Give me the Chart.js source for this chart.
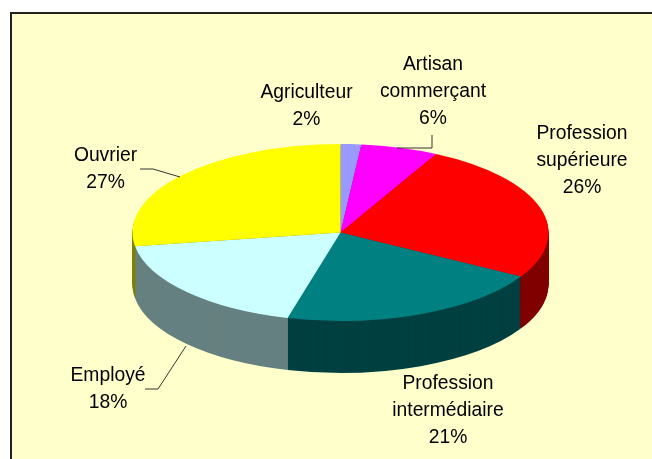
<!DOCTYPE html>
<html>
<head>
<meta charset="utf-8">
<style>
html, body { margin: 0; padding: 0; background: #fff; }
#panel { position: absolute; left: 10px; top: 12px; width: 640px; height: 445px; background: #ffffcc; border-left: 2px solid #222; border-top: 2px solid #222; }
canvas { position: absolute; left: 0; top: 0; }
</style>
</head>
<body>
<div id="panel"></div>
<canvas id="pie" width="652" height="459"></canvas>
<script src="https://cdn.jsdelivr.net/npm/chart.js@4"></script>
<script>
const categories = ['Agriculteur', 'Artisan commerçant', 'Profession supérieure', 'Profession intermédiaire', 'Employé', 'Ouvrier']
// slice sizes as measured on the picture, the printed percentages are below
const shares = [1.6, 6, 25.7, 20.8, 18.4, 27.5]
const shareLabels = ['2%', '6%', '26%', '21%', '18%', '27%']
const topColors = ['#9999ff', '#ff00ff', '#ff0000', '#008080', '#ccffff', '#ffff00']
const sideColors = ['#4d4d80', '#800080', '#800000', '#004040', '#668080', '#808000']

// the ellipse of the tilted pie, in page pixels
const centerX = 340.5
const centerY = 232.5
const flatten = 88.5 / 208
const depth = 52

// label anchors, one per category
const labelSpots = [
    { x: 306.5, y: 92.5 },
    { x: 433, y: 64.5 },
    { x: 582, y: 133.5 },
    { x: 448, y: 383.5 },
    { x: 108, y: 375.5 },
    { x: 105.5, y: 155.5 }
]
const leaders = [
    [[432, 135], [432, 148], [397, 148]],
    [[140, 169], [153, 169], [180, 177]],
    [[186, 346], [158, 389], [145, 389]]
]

function tilt(ctx, arc, dy) {
    ctx.translate(centerX, centerY + dy)
    ctx.scale(1, flatten)
    ctx.translate(-arc.x, -arc.y)
}

const tiltPlugin = {
    id: 'tilt',
    beforeDatasetDraw(chart) {
        const ctx = chart.ctx
        const arcs = chart.getDatasetMeta(0).data
        // stack dark copies of the slices downwards to make the rim
        for (let d = depth; d > 0; d--) {
            arcs.forEach((arc, i) => {
                const saved = arc.options
                arc.options = Object.assign(Object.create(saved), { backgroundColor: sideColors[i] })
                ctx.save()
                tilt(ctx, arc, d)
                arc.draw(ctx)
                ctx.restore()
                arc.options = saved
            })
        }
        ctx.save()
        tilt(ctx, arcs[0], 0)
    },
    afterDatasetDraw(chart) {
        chart.ctx.restore()
    },
    afterDraw(chart) {
        const ctx = chart.ctx
        ctx.save()
        ctx.strokeStyle = '#333'
        ctx.lineWidth = 1
        leaders.forEach(pts => {
            ctx.beginPath()
            pts.forEach((p, i) => i ? ctx.lineTo(p[0], p[1]) : ctx.moveTo(p[0], p[1]))
            ctx.stroke()
        })
        ctx.fillStyle = '#000'
        ctx.font = '19.3px "Liberation Sans"'
        ctx.textAlign = 'center'
        ctx.textBaseline = 'middle'
        categories.forEach((name, i) => {
            const lines = name.split(' ').concat(shareLabels[i])
            lines.forEach((line, k) => {
                ctx.fillText(line, labelSpots[i].x, labelSpots[i].y + k * 27)
            })
        })
        ctx.restore()
    }
}

new Chart(document.querySelector('#pie'), {
    type: 'pie',
    data: {
        labels: categories,
        datasets: [{
            data: shares,
            backgroundColor: topColors,
            borderWidth: 0,
            clip: false
        }]
    },
    options: {
        responsive: false,
        animation: false,
        layout: { padding: { left: 28, right: 0, top: 21, bottom: 22 } },
        plugins: {
            legend: { display: false },
            tooltip: { enabled: false }
        }
    },
    plugins: [tiltPlugin]
})
</script>
</body>
</html>
